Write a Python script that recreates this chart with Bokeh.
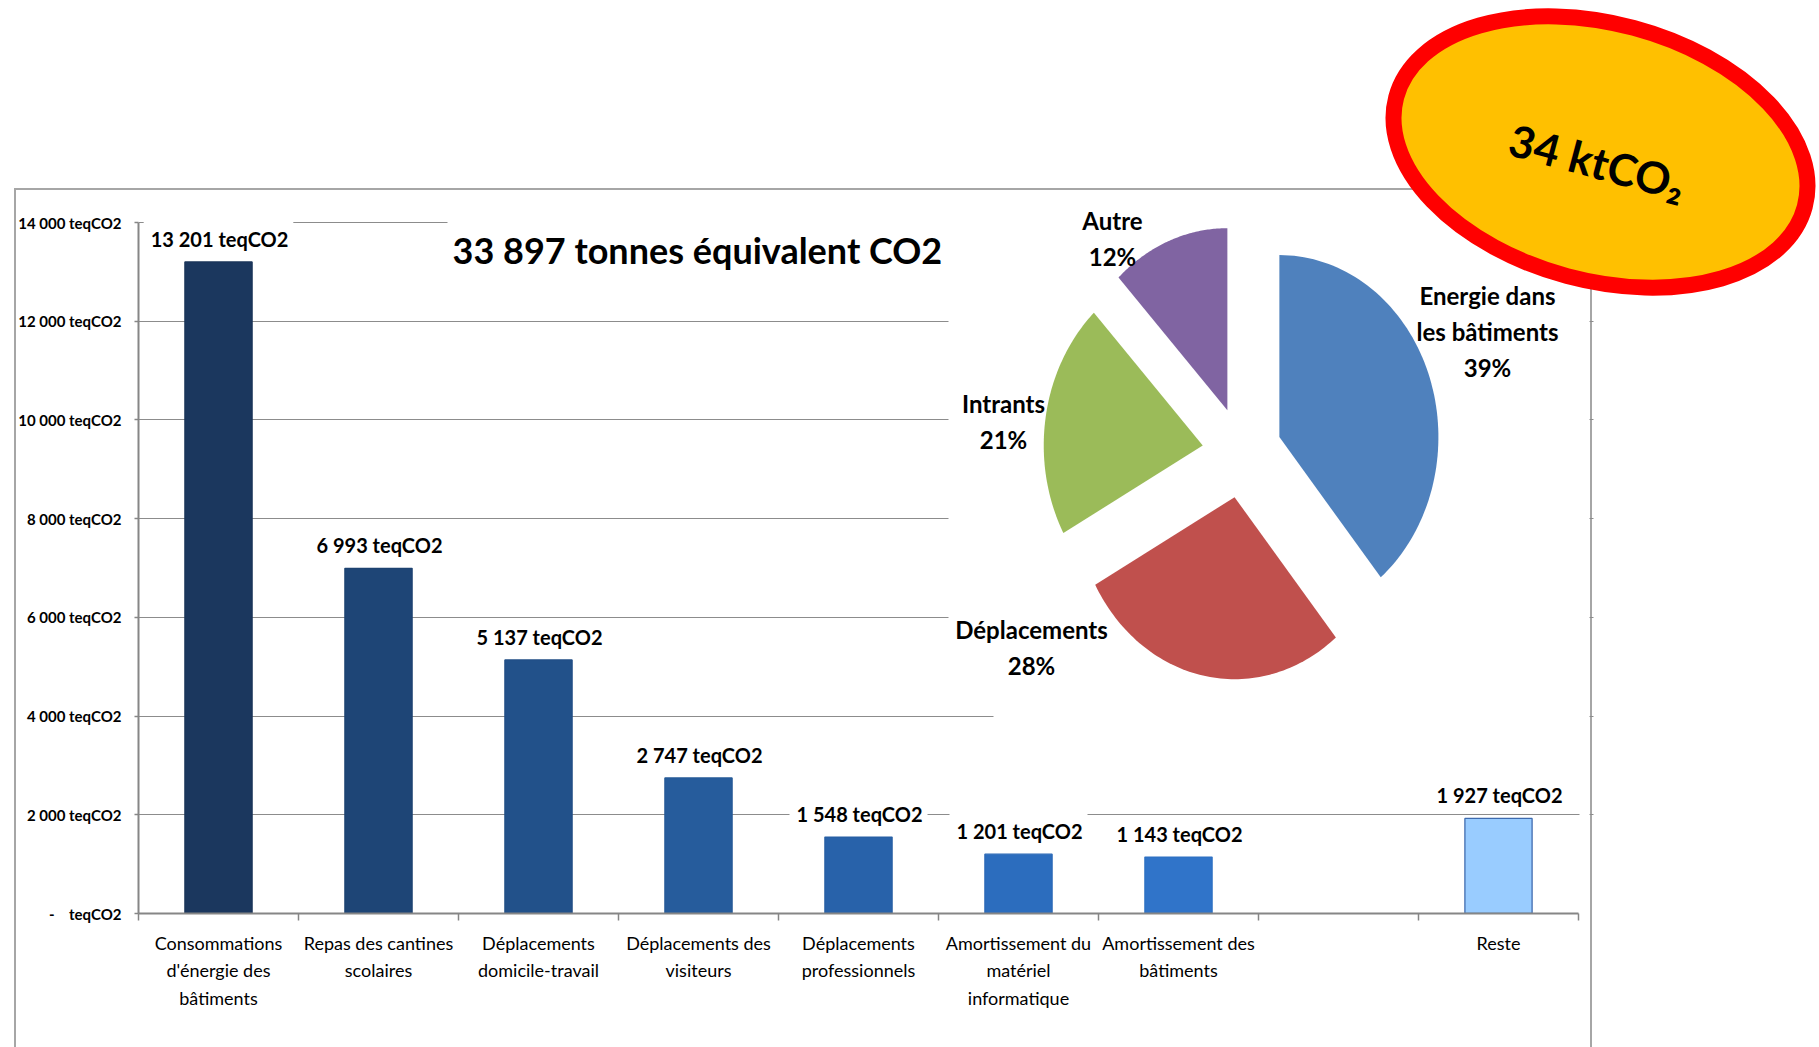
import numpy as np
from bokeh.plotting import figure
from bokeh.models import (Range1d, FixedTicker, LinearAxis, Label, ColumnDataSource, Grid)
from bokeh.embed import file_html
from bokeh.resources import INLINE

# ---------------- data ----------------
categories = [
    "Consommations\nd'énergie des\nbâtiments",
    "Repas des cantines\nscolaires",
    "Déplacements\ndomicile-travail",
    "Déplacements des\nvisiteurs",
    "Déplacements\nprofessionnels",
    "Amortissement du\nmatériel\ninformatique",
    "Amortissement des\nbâtiments",
    "",
    "Reste",
]
values = [13201, 6993, 5137, 2747, 1548, 1201, 1143, None, 1927]
y_ticks = [0, 2000, 4000, 6000, 8000, 10000, 12000, 14000]
y_tick_labels = ["-\u00a0\u00a0\u00a0\u00a0teqCO2", "2 000 teqCO2", "4 000 teqCO2", "6 000 teqCO2",
                 "8 000 teqCO2", "10 000 teqCO2", "12 000 teqCO2", "14 000 teqCO2"]
pie_names = ["Energie dans\nles bâtiments", "Déplacements", "Intrants", "Autre"]
pie_pct = [39, 28, 21, 12]
title_text = "33 897 tonnes équivalent CO2"
badge_text = "34 ktCO₂"

# ---------------- styles / layout ----------------
bar_colors = ["#1B375E", "#1E4576", "#22518A", "#265C9C", "#2862AA",
              "#2C6DBE", "#3074C9", "#3074C9", "#99CCFF"]
bar_lines = ["#1A3458", "#1D4270", "#214E85", "#255996", "#275FA3",
             "#2B69B6", "#2E70C2", "#2E70C2", "#3F6BAF"]
pie_colors = ["#4F81BD", "#C0504D", "#9BBB59", "#8064A2"]
FONT = "Lato"
GRID = "#8C8C8C"
AXIS = "#868686"
FRAME_LINE = "#A6A6A6"

W, H = 1819, 1047
FL = 138          # canvas x of y axis
FB = 913          # canvas y of x axis
SLOT = 160        # px per category
Y_TOP = 222       # canvas y of 14000
ppu = (FB - Y_TOP) / 14000.0

p = figure(width=W, height=H, output_backend="svg", toolbar_location=None, title=None,
           x_axis_type=None, y_axis_type=None,
           x_range=Range1d(0, (W - FL) / SLOT), y_range=Range1d(0, FB / ppu),
           min_border_left=FL, min_border_bottom=H - FB, min_border_top=0, min_border_right=0)
p.outline_line_color = None
p.background_fill_color = None
p.border_fill_color = None

# outer chart-area frame (left, top, right edges) drawn behind the transparent canvas
g = f"linear-gradient({FRAME_LINE}, {FRAME_LINE})"
p.styles = {
    "background": (f"{g} 14px 188px / 2px 900px no-repeat, "
                   f"{g} 14px 188px / 1578px 2px no-repeat, "
                   f"{g} 1590px 188px / 2px 900px no-repeat, white")
}

# pixel-like space (canvas coordinates) for decorations
p.extra_x_ranges = {"px": Range1d(FL, W)}
p.extra_y_ranges = {"px": Range1d(FB, 0)}

# pie space: unit circle -> ellipse on screen
PCX, PCY, RX, RY = 1241.5, 452.0, 159.0, 182.0
p.extra_x_ranges["pie"] = Range1d(-(PCX - FL) / RX, (W - PCX) / RX)
p.extra_y_ranges["pie"] = Range1d(-(FB - PCY) / RY, PCY / RY)

# grid
grid = Grid(dimension=1, ticker=FixedTicker(ticks=y_ticks), grid_line_color=GRID,
            grid_line_width=1.2)
p.add_layout(grid)

# white boxes of overlaid objects (title box, pie chart area, right margin)
occ = ColumnDataSource(dict(
    left=[447, 948, 993, 1579, 1593],
    right=[993, 1588, 1588, 1589, W],
    top=[191, 191, 191, 191, 0],
    bottom=[288, 680, 760, FB - 1, FB - 1],
))
p.quad(left="left", right="right", top="top", bottom="bottom", source=occ,
       fill_color="white", line_color=None, x_range_name="px", y_range_name="px")

# bars
idx = [i for i, v in enumerate(values) if v is not None]
bars = ColumnDataSource(dict(
    x=[i + 0.5 for i in idx],
    top=[values[i] for i in idx],
    color=[bar_colors[i] for i in idx],
    lc=[bar_lines[i] for i in idx],
))
p.vbar(x="x", top="top", bottom=0, width=0.42, source=bars, fill_color="color",
       line_color="lc", line_width=1.3)

for i in idx:
    v = values[i]
    txt = f"{v:,}".replace(",", " ") + " teqCO2"
    p.add_layout(Label(x=i + 0.5, y=v, text=txt, text_align="center",
                       text_baseline="alphabetic", y_offset=25, text_font=FONT,
                       text_font_size="20px", text_font_style="bold", text_color="black",
                       background_fill_color="white",
                       padding=dict(left=7, right=5, top=6, bottom=2)))

# axes
yaxis = LinearAxis(ticker=FixedTicker(ticks=y_ticks), bounds=(0, 14000),
                   major_label_overrides=dict(zip(y_ticks, y_tick_labels)),
                   axis_line_color=AXIS, axis_line_width=2,
                   major_tick_line_color=AXIS, major_tick_line_width=1.5,
                   major_tick_out=4, major_tick_in=0,
                   minor_tick_line_color=None, major_label_standoff=13,
                   major_label_text_font=FONT, major_label_text_font_size="15px",
                   major_label_text_font_style="bold", major_label_text_color="black")
p.add_layout(yaxis, "left")

centers = [i + 0.5 for i in range(len(categories))]
xaxis = LinearAxis(ticker=FixedTicker(ticks=centers, minor_ticks=list(range(len(categories) + 1))),
                   bounds=(0, len(categories)),
                   major_label_overrides=dict(zip(centers, categories)),
                   axis_line_color=AXIS, axis_line_width=2,
                   major_tick_line_color=None, major_tick_out=0, major_tick_in=0,
                   minor_tick_line_color=AXIS, minor_tick_line_width=1.5,
                   minor_tick_out=7, minor_tick_in=0,
                   major_label_standoff=11, major_label_text_font=FONT,
                   major_label_text_font_size="18px", major_label_text_color="black",
                   major_label_text_line_height=1.27)
p.add_layout(xaxis, "below")

# title
p.add_layout(Label(x=452, y=249, text=title_text, text_align="left",
                   text_baseline="alphabetic", text_font=FONT, text_font_size="36px",
                   text_font_style="bold", text_color="black",
                   x_range_name="px", y_range_name="px"))

# exploded pie (angles clockwise from 12 o'clock)
EXPLODE = 0.25
xs, ys = [], []
cum = 0.0
for pct in pie_pct:
    a0 = 2 * np.pi * cum / 100.0
    a1 = 2 * np.pi * (cum + pct) / 100.0
    mid = 0.5 * (a0 + a1)
    ox, oy = EXPLODE * np.sin(mid), EXPLODE * np.cos(mid)
    t = np.linspace(a0, a1, 80)
    xs.append([ox] + list(ox + np.sin(t)))
    ys.append([oy] + list(oy + np.cos(t)))
    cum += pct
p.patches(xs=xs, ys=ys, fill_color=pie_colors, line_color=None,
          x_range_name="pie", y_range_name="pie")

pie_label_pos = [(1487, 331), (1031, 647), (1003, 421), (1112, 238)]
for name, pct, (lx, ly) in zip(pie_names, pie_pct, pie_label_pos):
    p.add_layout(Label(x=lx, y=ly, text=f"{name}\n{pct}%", text_align="center",
                       text_baseline="middle", text_font=FONT, text_font_size="24px",
                       text_font_style="bold", text_color="black", text_line_height=1.23,
                       x_range_name="px", y_range_name="px"))

# badge
p.ellipse(x=[1600], y=[151.5], width=[423], height=[257], angle=-15, angle_units="deg",
          width_units="screen", height_units="screen", fill_color="#FFC000",
          line_color="#FF0000", line_width=16, x_range_name="px", y_range_name="px")
p.add_layout(Label(x=1597, y=161, text=badge_text, angle=-15, angle_units="deg",
                   text_align="center", text_baseline="middle", text_font=FONT,
                   text_font_size="44px", text_font_style="bold", text_color="black",
                   x_range_name="px", y_range_name="px"))

open("out.html", "w").write(file_html(p, INLINE))
